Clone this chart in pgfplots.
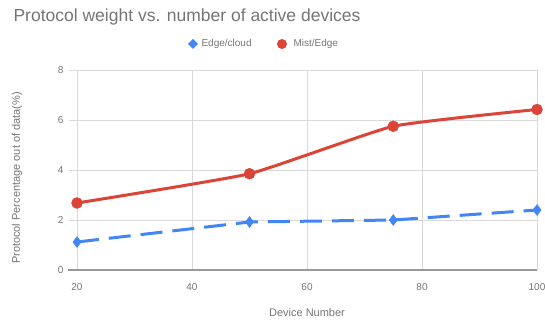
\documentclass[border=0pt]{standalone}
\usepackage{pgfplots}
\pgfplotsset{compat=1.18}
\usepackage{fontspec}
\setmainfont{Liberation Sans}
\definecolor{gblue}{HTML}{4285F4}
\definecolor{gred}{HTML}{DB4437}
\definecolor{gtext}{HTML}{757575}
\definecolor{ggrid}{HTML}{D9D9D9}
\definecolor{gbase}{HTML}{999999}
\begin{document}
\begin{tikzpicture}[x=1pt,y=1pt]
\path[use as bounding box] (-77,-54) rectangle (468,270);
\begin{axis}[
  at={(0,0)}, anchor=south west,
  scale only axis, width=460pt, height=200pt,
  xmin=20, xmax=100, ymin=0, ymax=8,
  xtick={20,40,60,80,100}, ytick={0,2,4,6,8},
  grid=major, grid style={ggrid, line width=0.8pt},
  axis x line*=bottom, axis y line*=left,
  x axis line style={gbase, line width=1.5pt, -, shorten <=-9pt},
  y axis line style={draw=none},
  xtick style={draw=none},
  ytick style={ggrid, line width=0.8pt},
  major tick length=8pt, tick align=outside,
  ticklabel style={font=\fontsize{10}{11}\selectfont, text=gtext},
  /pgf/number format/assume math mode=true,
  xticklabel style={yshift=-2pt},
  yticklabel style={xshift=-2pt},
  clip=false,
]
\addplot[gblue, line width=3pt, dash pattern=on 22pt off 10pt, mark=diamond*, mark size=5.5pt, mark options={solid, line width=0.4pt}]
  coordinates {(20,1.12) (50,1.92) (75,2.0) (100,2.4)};
\addplot[gred, line width=3pt, smooth, tension=0.25, mark=*, mark size=5.5pt, mark options={solid, line width=0.4pt}]
  coordinates {(20,2.68) (50,3.85) (75,5.75) (100,6.42)};
\end{axis}
\node[anchor=west, text=gtext, font=\fontsize{17.5}{19}\selectfont] at (-67,253) {Protocol weight vs. number of active devices};
% legend
\fill[gblue] (116,231) -- (121,226) -- (116,221) -- (111,226) -- cycle;
\node[anchor=west, text=gtext, font=\fontsize{10}{11}\selectfont] at (121,226) {Edge/cloud};
\fill[gred] (205,226) circle (5pt);
\node[anchor=west, text=gtext, font=\fontsize{10}{11}\selectfont] at (213,226) {Mist/Edge};
\node[rotate=90, text=gtext, font=\fontsize{11}{12}\selectfont] at (-60,92) {Protocol Percentage out of data(\%)};
\node[text=gtext, font=\fontsize{11}{12}\selectfont] at (230,-43) {Device Number};
\end{tikzpicture}
\end{document}
